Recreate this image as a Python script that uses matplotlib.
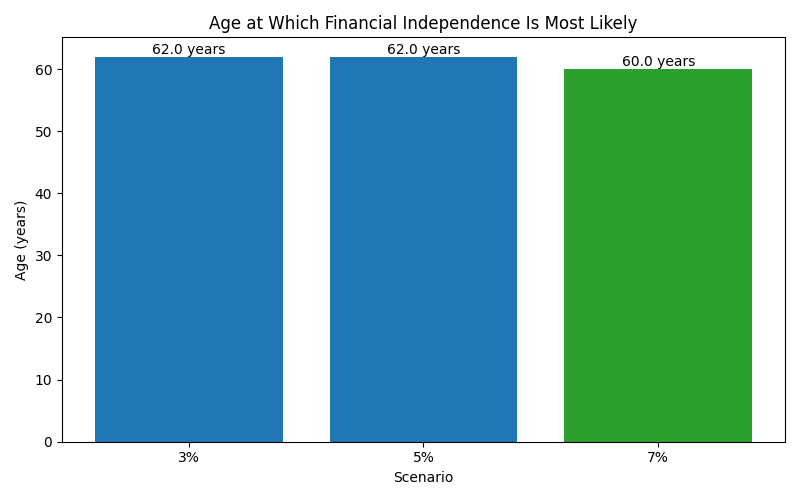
import matplotlib
matplotlib.use("Agg")
import matplotlib.pyplot as plt

scenarios = ["3%", "5%", "7%"]
ages = [62.0, 62.0, 60.0]
colors = ["#1f77b4", "#1f77b4", "#2ca02c"]

fig, ax = plt.subplots(figsize=(8, 5), dpi=100)
bars = ax.bar(scenarios, ages, color=colors)
for b, v in zip(bars, ages):
    ax.text(b.get_x() + b.get_width() / 2, v, f"{v:.1f} years", ha="center", va="bottom")
ax.set_title("Age at Which Financial Independence Is Most Likely")
ax.set_xlabel("Scenario")
ax.set_ylabel("Age (years)")
fig.tight_layout()
fig.savefig("out.png")
